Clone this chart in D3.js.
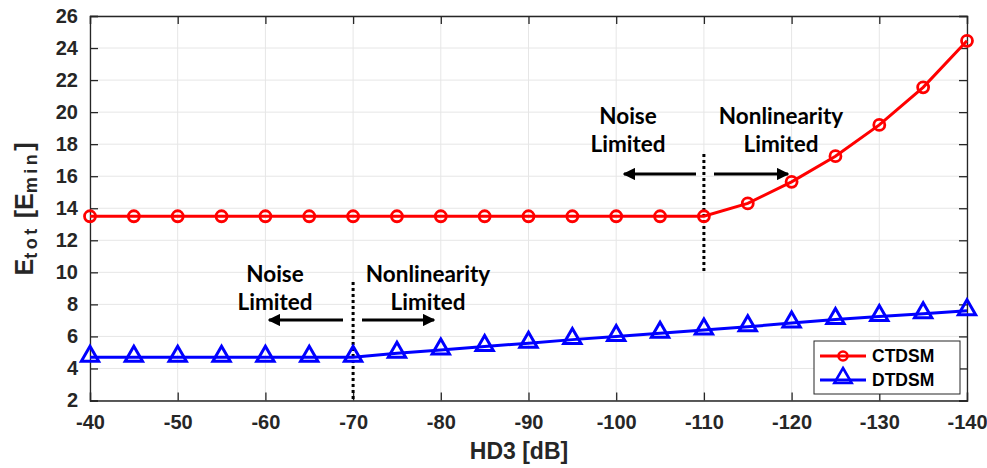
<!DOCTYPE html>
<html>
<head>
<meta charset="utf-8">
<script src="https://cdn.jsdelivr.net/npm/d3@7"></script>
<style>
  html, body { margin: 0; padding: 0; background: #fff; }
  svg { display: block; }
  .tick text { font-family: "Liberation Sans", Arial, sans-serif; font-weight: bold; font-size: 20px; fill: #262626; }
  .note { font-family: Lato, "Open Sans", sans-serif; font-weight: bold; font-size: 22.5px; fill: #000; }
</style>
</head>
<body>
<svg id="chart" width="987" height="468"></svg>
<script>
// HD3 sweep (dB) and total energy per design, in units of E_min
const hd3 = [-40, -45, -50, -55, -60, -65, -70, -75, -80, -85, -90, -95, -100, -105, -110, -115, -120, -125, -130, -135, -140];
const ctdsm = [13.5, 13.5, 13.5, 13.5, 13.5, 13.5, 13.5, 13.5, 13.5, 13.5, 13.5, 13.5, 13.5, 13.5, 13.5, 14.3, 15.65, 17.25, 19.2, 21.55, 24.45];
const dtdsm = [4.7, 4.7, 4.7, 4.7, 4.7, 4.7, 4.7, 4.95, 5.15, 5.37, 5.58, 5.8, 6.0, 6.2, 6.4, 6.6, 6.83, 7.05, 7.25, 7.42, 7.6];
const xTicks = [-40, -50, -60, -70, -80, -90, -100, -110, -120, -130, -140];
const yTicks = [2, 4, 6, 8, 10, 12, 14, 16, 18, 20, 22, 24, 26];
const seriesNames = ["CTDSM", "DTDSM"];
const seriesColors = ["#ff0000", "#0000ff"];

const svg = d3.select("#chart");
const x = d3.scaleLinear().domain([-40, -140]).range([90, 967]);
const y = d3.scaleLinear().domain([2, 26]).range([400.5, 16]);

const x0 = x.range()[0], x1 = x.range()[1];
const y0 = y.range()[0], y1 = y.range()[1];

// grid
const grid = svg.append("g");
grid.selectAll(".gx").data(xTicks).join("line")
  .attr("x1", d => x(d)).attr("x2", d => x(d)).attr("y1", y0).attr("y2", y1)
  .attr("stroke", "#e6e6e6").attr("stroke-width", 1);
grid.selectAll(".gy").data(yTicks).join("line")
  .attr("x1", x0).attr("x2", x1).attr("y1", d => y(d)).attr("y2", d => y(d))
  .attr("stroke", "#e6e6e6").attr("stroke-width", 1);

// axes (box with ticks on all four sides)
const tl = 8;
const fmt = d => String(d);  // plain hyphen-minus labels
const axB = svg.append("g").attr("transform", `translate(0,${y0})`)
  .call(d3.axisBottom(x).tickValues(xTicks).tickSize(-tl).tickPadding(14).tickFormat(fmt));
const axT = svg.append("g").attr("transform", `translate(0,${y1})`)
  .call(d3.axisTop(x).tickValues(xTicks).tickSize(-tl).tickFormat(""));
const axL = svg.append("g").attr("transform", `translate(${x0},0)`)
  .call(d3.axisLeft(y).tickValues(yTicks).tickSize(-tl).tickPadding(12).tickFormat(fmt));
const axR = svg.append("g").attr("transform", `translate(${x1},0)`)
  .call(d3.axisRight(y).tickValues(yTicks).tickSize(-tl).tickFormat(""));
[axB, axT, axL, axR].forEach(a => {
  a.select(".domain").attr("stroke", "#262626").attr("stroke-width", 1.3);
  a.selectAll(".tick line").attr("stroke", "#262626").attr("stroke-width", 1.3);
});
axB.selectAll(".tick text").attr("dy", "0.71em");

// axis titles
svg.append("text").attr("x", 519).attr("y", 459)
  .attr("text-anchor", "middle")
  .style("font-family", "Liberation Sans, Arial, sans-serif").style("font-weight", "bold").style("font-size", "23px").attr("fill", "#262626")
  .text("HD3 [dB]");
const yl = svg.append("text").attr("transform", `translate(33,209) rotate(-90)`)
  .attr("text-anchor", "middle")
  .style("font-family", "Liberation Sans, Arial, sans-serif").style("font-weight", "bold").style("font-size", "25px").attr("fill", "#262626");
yl.append("tspan").text("E");
yl.append("tspan").attr("dy", 4).style("font-size", "18px").attr("letter-spacing", "3.5px").text("tot");
yl.append("tspan").attr("dy", -4).text(" [E");
yl.append("tspan").attr("dy", 4).style("font-size", "18px").attr("letter-spacing", "3.5px").text("min");
yl.append("tspan").attr("dy", -4).text("]");

// dotted boundaries between regions
const divides = [
  { hd: -110, top: 154, bot: 273 },
  { hd: -70, top: 282, bot: 400 }
];
svg.selectAll(".div").data(divides).join("line")
  .attr("x1", d => x(d.hd)).attr("x2", d => x(d.hd))
  .attr("y1", d => d.top).attr("y2", d => d.bot)
  .attr("stroke", "#000").attr("stroke-width", 3).attr("stroke-dasharray", "3,3");

// series
const lineGen = d3.line().x(d => x(d[0])).y(d => y(d[1]));
const triangle = d3.symbol().type(d3.symbolTriangle).size(130);

const ct = hd3.map((h, i) => [h, ctdsm[i]]);
const dt = hd3.map((h, i) => [h, dtdsm[i]]);

svg.append("path").datum(dt).attr("d", lineGen).attr("fill", "none")
  .attr("stroke", seriesColors[1]).attr("stroke-width", 3);
svg.selectAll(".tri").data(dt).join("path")
  .attr("d", triangle)
  .attr("transform", d => `translate(${x(d[0])},${y(d[1]) - 1})`)
  .attr("fill", "none").attr("stroke", seriesColors[1]).attr("stroke-width", 3);

svg.append("path").datum(ct).attr("d", lineGen).attr("fill", "none")
  .attr("stroke", seriesColors[0]).attr("stroke-width", 3);
svg.selectAll(".circ").data(ct).join("circle")
  .attr("cx", d => x(d[0])).attr("cy", d => y(d[1])).attr("r", 5.5)
  .attr("fill", "none").attr("stroke", seriesColors[0]).attr("stroke-width", 2.8);

// arrow heads
const defs = svg.append("defs");
defs.append("marker").attr("id", "ah").attr("viewBox", "0 0 10 10")
  .attr("refX", 9).attr("refY", 5).attr("markerWidth", 4.2).attr("markerHeight", 4.2)
  .attr("markerUnits", "strokeWidth").attr("orient", "auto")
  .append("path").attr("d", "M0,0 L10,5 L0,10 Z").attr("fill", "#000");

const arrows = [
  { from: 696, to: 624, yy: 174 },
  { from: 714, to: 788, yy: 174 },
  { from: 343, to: 269, yy: 320 },
  { from: 362, to: 434, yy: 320 }
];
svg.selectAll(".arr").data(arrows).join("line")
  .attr("x1", d => d.from).attr("x2", d => d.to)
  .attr("y1", d => d.yy).attr("y2", d => d.yy)
  .attr("stroke", "#000").attr("stroke-width", 3).attr("marker-end", "url(#ah)");

const notes = [
  { cx: 628, cy: 124, lines: ["Noise", "Limited"] },
  { cx: 781, cy: 124, lines: ["Nonlinearity", "Limited"] },
  { cx: 275, cy: 282, lines: ["Noise", "Limited"] },
  { cx: 428, cy: 282, lines: ["Nonlinearity", "Limited"] }
];
notes.forEach(n => {
  n.lines.forEach((t, i) => {
    svg.append("text").attr("class", "note").attr("x", n.cx).attr("y", n.cy + i * 28)
      .attr("text-anchor", "middle").text(t);
  });
});

// legend
const lg = svg.append("g").attr("transform", "translate(814,341)");
lg.append("rect").attr("width", 146).attr("height", 53).attr("fill", "#fff")
  .attr("stroke", "#262626").attr("stroke-width", 1);
seriesNames.forEach((s, i) => {
  const yy = 15 + i * 24;
  lg.append("line").attr("x1", 6).attr("x2", 52).attr("y1", yy).attr("y2", yy)
    .attr("stroke", seriesColors[i]).attr("stroke-width", 3);
  if (i === 0) {
    lg.append("circle").attr("cx", 29).attr("cy", yy).attr("r", 4.5)
      .attr("fill", "none").attr("stroke", seriesColors[i]).attr("stroke-width", 2.6);
  } else {
    lg.append("path").attr("d", triangle).attr("transform", `translate(29,${yy - 2})`)
      .attr("fill", "none").attr("stroke", seriesColors[i]).attr("stroke-width", 2.6);
  }
  lg.append("text").attr("x", 58).attr("y", yy + 6)
    .style("font-family", "Liberation Sans, Arial, sans-serif").style("font-weight", "bold").style("font-size", "17.5px")
    .attr("fill", "#000").text(s);
});
</script>
</body>
</html>
